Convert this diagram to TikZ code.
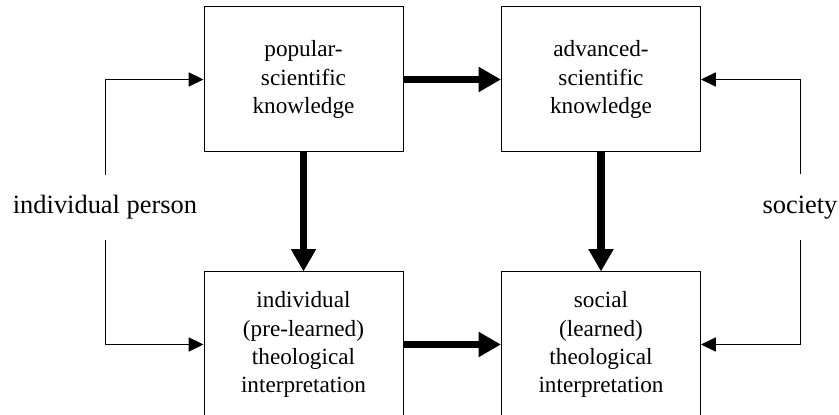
\documentclass[tikz,border=0pt]{standalone}
\usepackage{fontspec}
\newfontfamily\timesfont{LiberationSerif}[Extension=.ttf, UprightFont=*-Regular]
\usetikzlibrary{arrows.meta}

\begin{document}
\begin{tikzpicture}[
        box/.style={draw, line width=.7pt, minimum width=4.975cm, minimum height=3.625cm, align=center, font=\timesfont\fontsize{16.5}{20}\selectfont},
        bigarrow/.style={line width=5pt, -{Triangle[length=16pt, width=17pt]}},
        sidearrow/.style={line width=.7pt, -{Triangle[length=10.5pt, width=10pt]}},
        side/.style={font=\timesfont\fontsize{18.8}{22}\selectfont, text height=13pt, text depth=4pt, inner ysep=14.5pt}
    ]
        \useasboundingbox (0,0) rectangle (20.975,10.375);

        \node[box] (pop) at (7.5875,8.3875) {popular-\\scientific\\knowledge};
        \node[box] (adv) at (15.025,8.3875) {advanced-\\scientific\\knowledge};
        \node[box] (ind) at (7.5875,1.7625) {individual\\(pre-learned)\\theological\\interpretation};
        \node[box] (soc) at (15.025,1.7625) {social\\(learned)\\theological\\interpretation};

        \draw[bigarrow] (pop) -- (adv);
        \draw[bigarrow] (pop) -- (ind);
        \draw[bigarrow] (adv) -- (soc);
        \draw[bigarrow] (ind) -- (soc);

        \node[side] (person) at (2.625,5.1875) {individual person};
        \draw[sidearrow] (person.north) |- (pop.west);
        \draw[sidearrow] (person.south) |- (ind.west);

        \node[side] (society) at (20.0,5.2) {society};
        \draw[sidearrow] (society.north) |- (adv.east);
        \draw[sidearrow] (society.south) |- (soc.east);
    \end{tikzpicture}
\end{document}
